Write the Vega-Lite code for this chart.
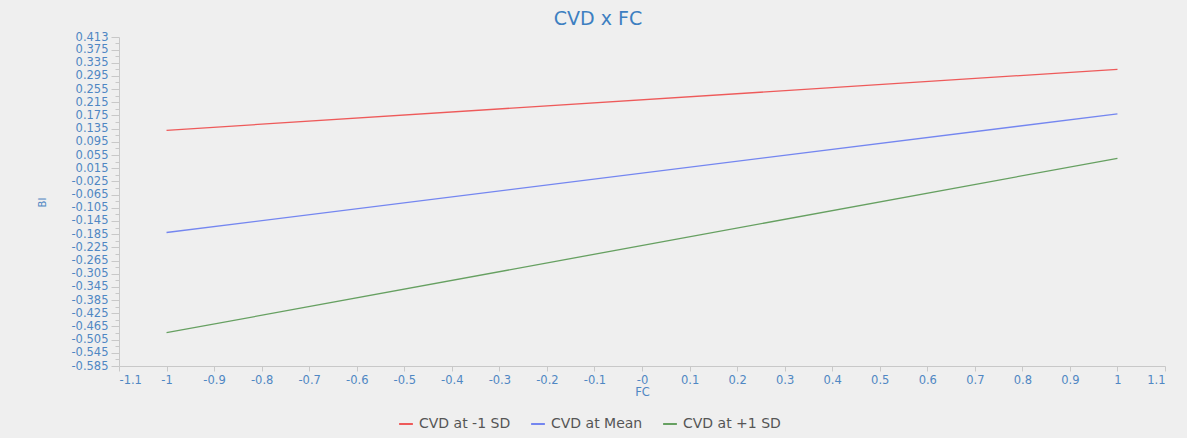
{
  "$schema": "https://vega.github.io/schema/vega-lite/v6.json",
  "width": 1046,
  "height": 329,
  "autosize": {"type": "none"},
  "padding": {"left": 119, "top": 37, "right": 22, "bottom": 72},
  "background": "#efefef",
  "title": {
    "text": "CVD x FC",
    "anchor": "middle",
    "dx": -44,
    "offset": 2,
    "fontSize": 19,
    "font": "DejaVu Sans",
    "fontWeight": "normal",
    "color": "#3d7fc1"
  },
  "data": {
    "values": [
      {"series": "CVD at -1 SD", "FC": -1, "BI": 0.130},
      {"series": "CVD at -1 SD", "FC": 1, "BI": 0.315},
      {"series": "CVD at Mean", "FC": -1, "BI": -0.180},
      {"series": "CVD at Mean", "FC": 1, "BI": 0.180},
      {"series": "CVD at +1 SD", "FC": -1, "BI": -0.484},
      {"series": "CVD at +1 SD", "FC": 1, "BI": 0.045}
    ]
  },
  "mark": {"type": "line", "strokeWidth": 1.3},
  "encoding": {
    "x": {
      "field": "FC",
      "type": "quantitative",
      "scale": {"domain": [-1.1, 1.1], "nice": false, "zero": false},
      "axis": {
        "title": "FC",
        "values": [-1.1, -1, -0.9, -0.8, -0.7, -0.6, -0.5, -0.4, -0.3, -0.2, -0.1, 0, 0.1, 0.2, 0.3, 0.4, 0.5, 0.6, 0.7, 0.8, 0.9, 1, 1.1],
        "labelExpr": "datum.value == 0 ? '-0' : replace(format(datum.value, '.1~f'), '\u2212', '-')",
        "grid": false,
        "domainColor": "#c8c8c8",
        "tickColor": "#c8c8c8",
        "tickSize": 5,
        "labelPadding": 3,
        "labelFont": "DejaVu Sans",
        "labelFontSize": 11.5,
        "labelColor": "#4f87c3",
        "titleFont": "DejaVu Sans",
        "titleFontSize": 11.5,
        "titleFontWeight": "normal",
        "titleColor": "#4f87c3",
        "titlePadding": 1
      }
    },
    "y": {
      "field": "BI",
      "type": "quantitative",
      "scale": {"domain": [-0.585, 0.413], "nice": false, "zero": false},
      "axis": {
        "title": "BI",
        "values": [0.413, 0.395, 0.375, 0.355, 0.335, 0.315, 0.295, 0.275, 0.255, 0.235, 0.215, 0.195, 0.175, 0.155, 0.135, 0.115, 0.095, 0.075, 0.055, 0.035, 0.015, -0.005, -0.025, -0.045, -0.065, -0.085, -0.105, -0.125, -0.145, -0.165, -0.185, -0.205, -0.225, -0.245, -0.265, -0.285, -0.305, -0.325, -0.345, -0.365, -0.385, -0.405, -0.425, -0.445, -0.465, -0.485, -0.505, -0.525, -0.545, -0.565, -0.585],
        "labelExpr": "(round(datum.value * 1000) - 15) % 40 == 0 || datum.value == 0.413 ? replace(format(datum.value, '.3f'), '\u2212', '-') : ''",
        "tickSize": {"condition": {"test": "(round(datum.value * 1000) - 15) % 40 == 0 || datum.value == 0.413", "value": 8}, "value": 4},
        "grid": false,
        "domainColor": "#c8c8c8",
        "tickColor": "#c8c8c8",
        "labelPadding": 3,
        "labelOverlap": false,
        "labelFont": "DejaVu Sans",
        "labelFontSize": 11.5,
        "labelColor": "#4f87c3",
        "titleFont": "DejaVu Sans",
        "titleFontSize": 10,
        "titleFontWeight": "normal",
        "titleColor": "#4f87c3",
        "titleX": -77,
        "titleY": 165,
        "titleAngle": -90,
        "titleBaseline": "middle",
        "titleAlign": "center"
      }
    },
    "color": {
      "field": "series",
      "type": "nominal",
      "scale": {
        "domain": ["CVD at -1 SD", "CVD at Mean", "CVD at +1 SD"],
        "range": ["#ee5a5a", "#7486f0", "#66a061"]
      },
      "legend": {
        "title": null,
        "orient": "none",
        "direction": "horizontal",
        "legendX": 279,
        "legendY": 379,
        "symbolType": "stroke",
        "symbolStrokeWidth": 2,
        "symbolSize": 190,
        "labelFont": "DejaVu Sans",
        "labelFontSize": 14,
        "labelColor": "#555555",
        "labelOffset": 5,
        "columnPadding": 16
      }
    }
  },
  "config": {
    "view": {"stroke": null}
  }
}
